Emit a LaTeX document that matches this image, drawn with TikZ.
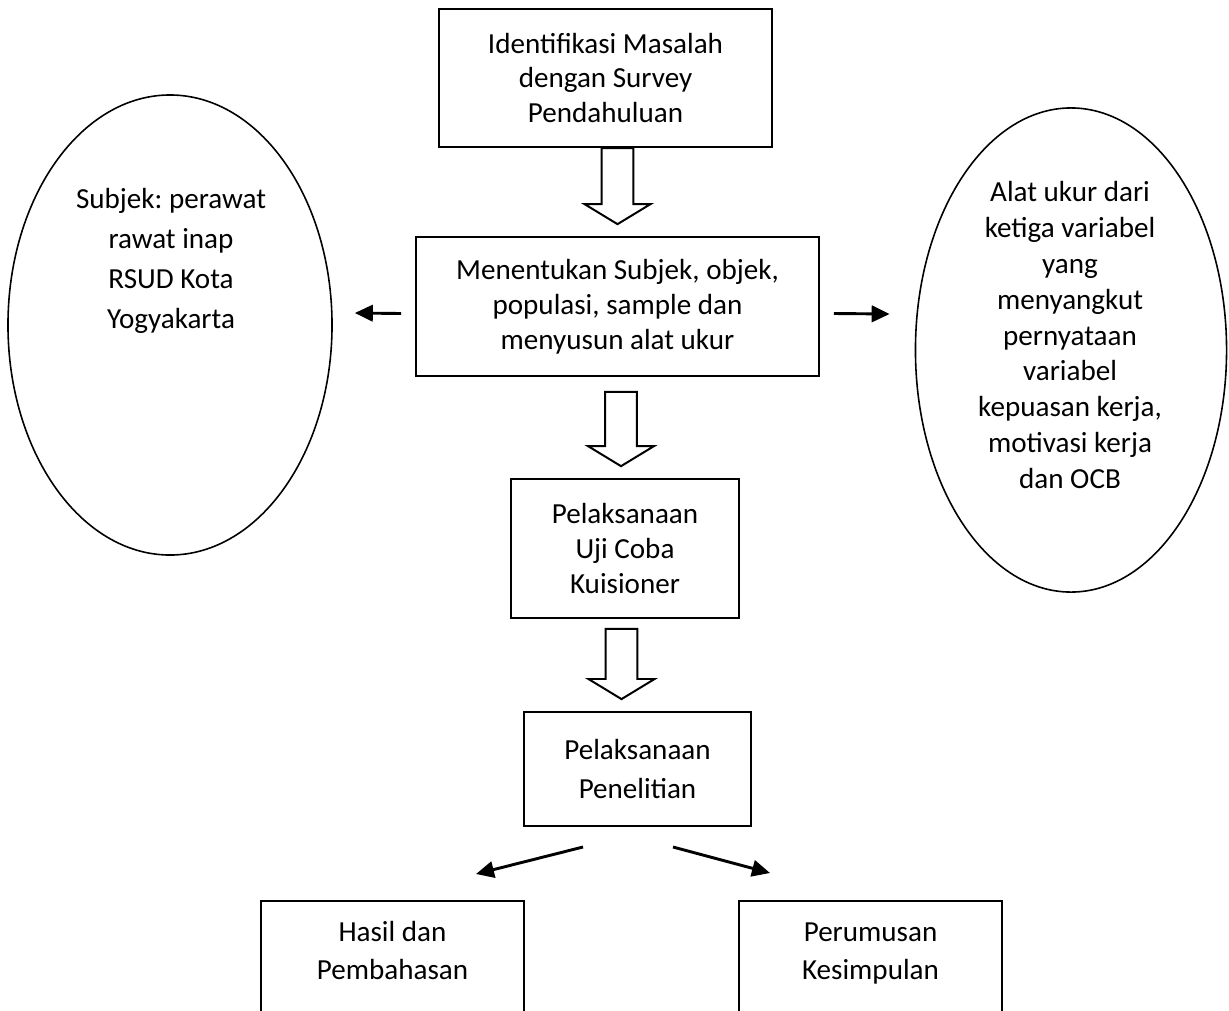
\documentclass[tikz,border=0pt]{standalone}
\usepackage{fontspec}
\setmainfont{Carlito}
\frenchspacing
\usetikzlibrary{shapes.geometric,arrows.meta,calc}

% hollow block arrow: x position, from node, to node, gap below from node
\newcommand{\hollowarrow}[4]{%
  \draw[hollow] let \p1=($(#2.south)+(0,#4)$), \p2=(#3.north), \p3=(#1,0) in
    (\x3-6pt,\y1) -- (\x3-6pt,\y2+12.1pt) -- (\x3-12.5pt,\y2+12.1pt) --
    (\x3,\y2+4.5pt) -- (\x3+12.5pt,\y2+12.1pt) -- (\x3+6pt,\y2+12.1pt) --
    (\x3+6pt,\y1) -- cycle;}

\begin{document}
\begin{tikzpicture}[x=0.378pt,y=-0.378pt,
    every node/.style={align=center,font=\fontsize{11}{13.2}\selectfont},
    box/.style={draw,line width=0.75pt,inner sep=0pt},
    oval/.style={draw,ellipse,line width=0.6pt,inner sep=0pt},
    hollow/.style={draw,line width=0.75pt,fill=white,line join=miter},
    sidearrow/.style={line width=1.1pt,-{Triangle[length=6.8pt,width=6.2pt]}}
    ]
    \useasboundingbox (0,0) rectangle (1229,1010);
    \clip (0,0) rectangle (1229,1010);

    \node (ident) [box,minimum width=125.9pt,minimum height=52.2pt] at (605.5,78)
      {Identifikasi Masalah\\dengan Survey\\Pendahuluan};
    \node (tentukan) [box,minimum width=152.3pt,minimum height=52.5pt] at (617.5,306.5)
      {Menentukan Subjek, objek,\\populasi, sample dan\\menyusun alat ukur};
    \node (ujicoba) [box,minimum width=86.2pt,minimum height=52.5pt] at (625,548.5)
      {Pelaksanaan\\Uji Coba\\Kuisioner};
    \node (penelitian) [box,minimum width=85.8pt,minimum height=43.1pt,
      font=\fontsize{11}{15.1}\selectfont] at (637.5,769)
      {Pelaksanaan\\Penelitian};
    \node (hasil) [box,anchor=north,minimum width=99.4pt,inner ysep=7.5pt,text depth=50pt,
      font=\fontsize{11}{14.4}\selectfont] at (392.5,900)
      {Hasil dan\\Pembahasan};
    \node (rumusan) [box,anchor=north,minimum width=99.4pt,inner ysep=8.3pt,text depth=50pt,
      font=\fontsize{11}{14.4}\selectfont] at (870.5,900)
      {Perumusan\\Kesimpulan};

    \node (subjek) [oval,minimum width=122.5pt,minimum height=173.9pt] at (170,325) {};
    \node (subjektext) [font=\fontsize{11}{15.1}\selectfont] at (171,261)
      {Subjek: perawat\\rawat inap\\RSUD Kota\\Yogyakarta};
    \node (alat) [oval,minimum width=117.6pt,minimum height=183pt] at (1071,350) {};
    \node (alattext) [font=\fontsize{11}{13.6}\selectfont] at (1070,335)
      {Alat ukur dari\\ketiga variabel\\yang\\menyangkut\\pernyataan\\variabel\\kepuasan kerja,\\motivasi kerja\\dan OCB};

    % the edges
    \hollowarrow{617.5}{ident}{tentukan}{0}
    \hollowarrow{621}{tentukan}{ujicoba}{15}
    \hollowarrow{621.5}{ujicoba}{penelitian}{10}
    \draw[sidearrow] ($(tentukan.west)+(-14,7)$) -- ($(subjek.east)+(22,-12)$);
    \draw[sidearrow] ($(tentukan.east)+(14,7)$) -- ($(alat.west)+(-25,-36)$);
    \draw[sidearrow] ($(penelitian.south)+(-54.5,20)$) -- ($(hasil.north)+(83.5,-26)$);
    \draw[sidearrow] ($(penelitian.south)+(35.5,20)$) -- ($(rumusan.north)+(-100.5,-27)$);
\end{tikzpicture}
\end{document}
